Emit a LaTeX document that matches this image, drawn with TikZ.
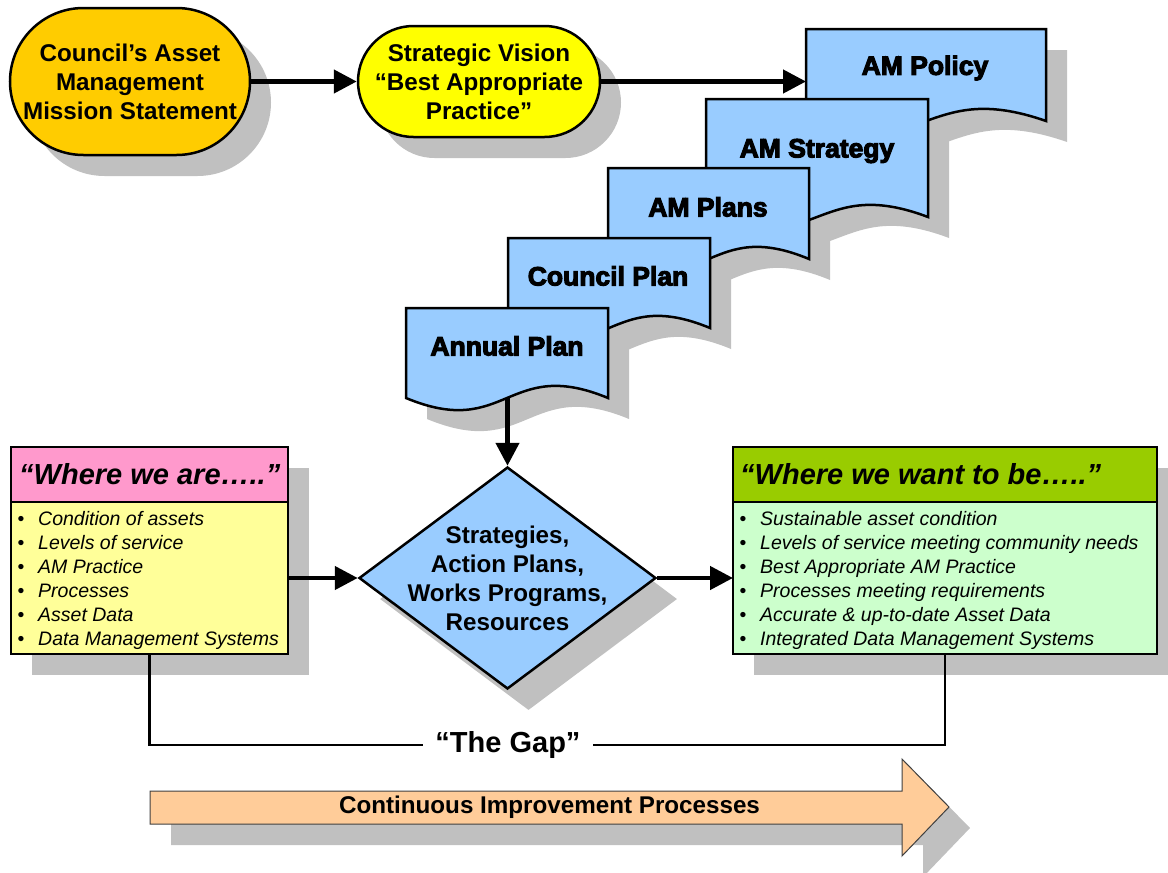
\documentclass[tikz,border=0pt]{standalone}
\usepackage{fontspec}
\setmainfont{Liberation Sans}
\newfontfamily\heavyfont{Liberation Sans}[FakeBold=4]
\usetikzlibrary{arrows.meta,shapes.misc,shapes.geometric}
\definecolor{shadowgray}{RGB}{192,192,192}
\definecolor{orangefill}{RGB}{255,204,0}
\definecolor{yellowfill}{RGB}{255,255,0}
\definecolor{bluefill}{RGB}{153,204,255}
\definecolor{pinkfill}{RGB}{255,153,204}
\definecolor{lightyellow}{RGB}{255,255,153}
\definecolor{greenhead}{RGB}{153,204,0}
\definecolor{lightgreen}{RGB}{204,255,204}
\definecolor{peach}{RGB}{255,204,153}
\newcommand{\docshape}[5]{\path[#1] (#2,#3) -- ({#2+#4},#3) -- ({#2+#4},{#3+#5}) .. controls ({#2+0.5*#4},{#3+#5-42}) and ({#2+0.5*#4},{#3+#5+42}) .. (#2,{#3+#5}) -- cycle;}
\begin{document}
\begin{tikzpicture}[x=1pt,y=-1pt,
  shadowc/.style={fill=shadowgray,draw=none},
  stadium/.style={rounded rectangle, draw=black, line width=2.5pt, inner sep=0pt},
  docst/.style={fill=bluefill, draw=black, line width=2.5pt},
  boxst/.style={draw=black, line width=2.5pt, inner sep=0pt, outer sep=0pt},
  frame/.style={inner sep=0pt, outer sep=0pt, draw=none},
  conn/.style={line width=4.5pt, -{Triangle[length=23pt,width=23pt]}},
  bigtxt/.style={font=\fontsize{24.2}{29}\selectfont\bfseries, align=center, inner sep=0pt},
  doctxt/.style={font=\heavyfont\bfseries\fontsize{26.5}{30}\selectfont, inner sep=0pt},
  headtxt/.style={font=\fontsize{29}{34}\selectfont\bfseries\itshape, inner sep=0pt},
  itemtxt/.style={font=\fontsize{19.5}{24}\selectfont\itshape, inner sep=0pt},
  bullettxt/.style={font=\fontsize{19.5}{24}\selectfont, inner sep=0pt},
  gapline/.style={line width=2.5pt},
  gaptxt/.style={font=\fontsize{29}{34}\selectfont\bfseries, fill=white, inner xsep=12pt, inner ysep=3pt},
  arrowtxt/.style={font=\fontsize{24.2}{28}\selectfont\bfseries, inner sep=0pt}
]
\useasboundingbox (0,0) rectangle (1168,873);

% ---------- shadows ----------
\begin{scope}[shift={(21,21)}]
  \node[stadium, shadowc, minimum width=240, minimum height=147] (councilsh) at (130,81.5) {};
  \node[stadium, shadowc, minimum width=242, minimum height=111] (svsh) at (479,81.5) {};
  \docshape{shadowc}{806}{29}{240}{92}
  \docshape{shadowc}{706}{99}{222}{118}
  \docshape{shadowc}{608}{168}{201}{91}
  \docshape{shadowc}{508}{238}{202}{90}
  \docshape{shadowc}{406}{308}{202}{90}
  \node[diamond, shadowc, minimum width=297, minimum height=222, inner sep=0pt] (diash) at (507.5,578) {};
  \path[shadowc] (11,447) rectangle (288,654);
  \path[shadowc] (733,447) rectangle (1157,654);
  \path[shadowc] (150,791) -- (902,791) -- (902,759) -- (949,807) -- (902,856) -- (902,824) -- (150,824) -- cycle;
\end{scope}

% ---------- top stadiums ----------
\node[stadium, fill=orangefill, minimum width=240, minimum height=147] (council) at (130,81.5) {};
\node[bigtxt] (counciltxt) at (130,81.5) {Council’s Asset\\Management\\Mission Statement};
\node[stadium, fill=yellowfill, minimum width=242, minimum height=111] (sv) at (479,81.5) {};
\node[bigtxt] (svtxt) at (479,81.5) {Strategic Vision\\“Best Appropriate\\Practice”};

% ---------- documents ----------
\docshape{docst}{806}{29}{240}{92}
\node[frame, minimum width=240, minimum height=92] (policy) at (926,75) {};
\node[doctxt] (policytxt) at (925,68) {AM Policy};
\docshape{docst}{706}{99}{222}{118}
\node[frame, minimum width=222, minimum height=118] (strategy) at (817,158) {};
\node[doctxt] (strategytxt) at (817,151) {AM Strategy};
\docshape{docst}{608}{168}{201}{91}
\node[frame, minimum width=201, minimum height=91] (plans) at (708.5,213.5) {};
\node[doctxt] (planstxt) at (708,207) {AM Plans};
\docshape{docst}{508}{238}{202}{90}
\node[frame, minimum width=202, minimum height=90] (cplan) at (609,283) {};
\node[doctxt] (cplantxt) at (608,276) {Council Plan};
\docshape{docst}{406}{308}{202}{90}
\node[frame, minimum width=202, minimum height=90] (annual) at (507.5,353) {};
\node[doctxt] (annualtxt) at (507,346) {Annual Plan};

% ---------- diamond ----------
\node[diamond, fill=bluefill, draw=black, line width=2.5pt, minimum width=297, minimum height=222, inner sep=0pt] (dia) at (507.5,578) {};
\node[bigtxt] (diatxt) at (507.5,578) {Strategies,\\Action Plans,\\Works Programs,\\Resources};

% ---------- left box ----------
\node[boxst, fill=pinkfill, minimum width=277, minimum height=55, anchor=north west] (lefthead) at (11,447) {};
\node[boxst, fill=lightyellow, minimum width=277, minimum height=152, anchor=north west] (leftbody) at (11,502) {};
\node[headtxt, anchor=base west] (leftheadtxt) at (19,484) {“Where we are…..”};
\foreach \t [count=\i] in {Condition of assets,Levels of service,AM Practice,Processes,Asset Data,Data Management Systems}{
  \node[bullettxt, anchor=base] (lbul\i) at (21,{525+24*(\i-1)}) {•};
  \node[itemtxt, anchor=base west] (litem\i) at (38,{525+24*(\i-1)}) {\t};
}

% ---------- right box ----------
\node[boxst, fill=greenhead, minimum width=424, minimum height=55, anchor=north west] (righthead) at (733,447) {};
\node[boxst, fill=lightgreen, minimum width=424, minimum height=152, anchor=north west] (rightbody) at (733,502) {};
\node[headtxt, anchor=base west] (rightheadtxt) at (740,484) {“Where we want to be…..”};
\foreach \t [count=\i] in {Sustainable asset condition,Levels of service meeting community needs,Best Appropriate AM Practice,Processes meeting requirements,Accurate \& up-to-date Asset Data,Integrated Data Management Systems}{
  \node[bullettxt, anchor=base] (rbul\i) at (743,{525+24*(\i-1)}) {•};
  \node[itemtxt, anchor=base west] (ritem\i) at (760,{525+24*(\i-1)}) {\t};
}

% ---------- connectors ----------
\draw[conn] (council.east) -- (sv.west);
\draw[conn] (sv.east) -- (sv.east -| policy.west);
\draw[conn] (annual.south) -- (dia.north);
\draw[conn] (leftbody.east |- dia.west) -- (dia.west);
\draw[conn] (dia.east) -- (dia.east -| rightbody.west);

% ---------- the gap ----------
\coordinate (gapL) at (150,745);
\coordinate (gapR) at (945,745);
\draw[gapline] (leftbody.south) -- (leftbody.south |- gapL) -- (rightbody.south |- gapR) -- (rightbody.south);
\node[gaptxt] (gap) at (508,745) {“The Gap”};

% ---------- continuous improvement arrow ----------
\path[fill=peach, draw=black!75, line width=1pt] (150,791) -- (902,791) -- (902,759) -- (949,807) -- (902,856) -- (902,824) -- (150,824) -- cycle;
\node[arrowtxt] (cip) at (549.5,807) {Continuous Improvement Processes};
\end{tikzpicture}
\end{document}
